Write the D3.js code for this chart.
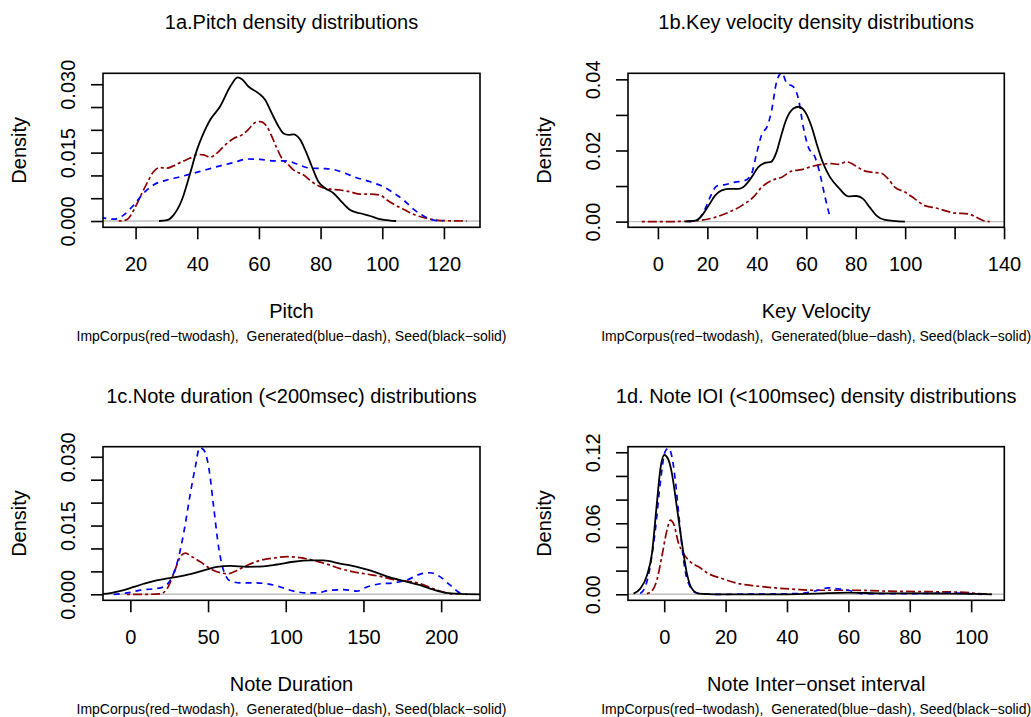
<!DOCTYPE html>
<html>
<head>
<meta charset="utf-8">
<script src="https://cdn.jsdelivr.net/npm/d3@7"></script>
<style>
  html, body { margin: 0; padding: 0; background: #fff; }
  svg { display: block; }
  text { font-family: "Liberation Sans", Arial, Helvetica, sans-serif; fill: #000; }
</style>
</head>
<body>
<svg id="chart" width="1031" height="717"></svg>
<script>
// ---------------- DATA ----------------
const seriesNames = ["ImpCorpus", "Generated", "Seed"];
const subtitleText = "ImpCorpus(red\u2212twodash),  Generated(blue\u2212dash), Seed(black\u2212solid)";

// Panel 1a: Pitch
const pitchImpCorpus = [[14.5,0],[16.1,0.0001],[17.7,0.0006],[19.4,0.0024],[21.5,0.0053],[23.7,0.0083],[25.8,0.0108],[27.8,0.0117],[30.2,0.0116],[32.3,0.0121],[35,0.013],[37.7,0.0138],[40.1,0.0146],[42,0.0145],[44.2,0.014],[46.4,0.0149],[49.1,0.0167],[51.8,0.0181],[54.5,0.0189],[56.6,0.0201],[58.8,0.0216],[60.4,0.0218],[62.6,0.0207],[64.2,0.0185],[65.8,0.016],[67.4,0.0138],[69.6,0.0123],[71.2,0.0112],[74.5,0.0101],[77.2,0.0086],[79.9,0.0075],[83.1,0.007],[86.3,0.0068],[89.6,0.0064],[92.8,0.0059],[96.1,0.0059],[99.3,0.0057],[101.5,0.0046],[104.2,0.0035],[107.4,0.0024],[110.7,0.0013],[114.4,0.0006],[118.8,0.0001],[127.4,0]];
const pitchGenerated = [[5,0.0009],[9.4,0.0007],[12.9,0.0004],[16.1,0.0013],[19.4,0.0035],[22.6,0.0061],[25.8,0.0079],[30.2,0.009],[34.5,0.0097],[38.8,0.0105],[43.1,0.0113],[47.4,0.0121],[51.8,0.0128],[56.1,0.0136],[60.4,0.0135],[64.7,0.0132],[69.1,0.0132],[72.3,0.0125],[76.6,0.0116],[80.9,0.0115],[84.2,0.0113],[87.4,0.0106],[91.7,0.0095],[96.1,0.0086],[100.4,0.0075],[103.6,0.0062],[106.9,0.0046],[110.1,0.0026],[113.4,0.0011],[116.6,0.0002],[119.8,0]];
const pitchSeed = [[27.6,0],[30.2,0.0002],[32.3,0.0013],[35,0.0046],[37.7,0.0105],[39.9,0.0156],[42,0.0192],[44.2,0.0222],[47.4,0.0251],[50.7,0.0295],[53.1,0.0315],[54.5,0.0311],[56.6,0.0295],[59.9,0.028],[62,0.0266],[64.2,0.0236],[66.4,0.0207],[68,0.0192],[69.6,0.0189],[71.2,0.019],[73.4,0.0178],[75,0.0156],[77.2,0.0119],[79.3,0.0086],[81.5,0.0072],[84.2,0.0061],[86.3,0.0046],[89.6,0.0024],[92.8,0.0017],[96.1,0.0011],[99.3,0.0004],[102.5,0.0001],[104.5,0]];

// Panel 1b: Key velocity
const velImpCorpus = [[-6.5,0],[3,0],[11,0.0001],[17.8,0.0004],[23.1,0.0012],[28.5,0.0026],[33.9,0.0045],[38.6,0.0069],[42,0.0097],[46,0.0116],[50.1,0.0125],[54.1,0.0142],[58.1,0.0146],[62.2,0.0155],[66.2,0.0161],[70.3,0.0163],[72.9,0.0161],[76.3,0.0168],[79.7,0.0158],[83,0.0144],[86.4,0.0139],[90.4,0.0136],[93.1,0.012],[95.8,0.0097],[99.9,0.0083],[103.9,0.0064],[107.9,0.0045],[112,0.0039],[116,0.0031],[120.1,0.0024],[125.4,0.0022],[128.8,0.0012],[131.5,0.0003],[134.2,0]];
const velGenerated = [[12.4,0],[15.7,0.0003],[18.4,0.0026],[21.1,0.0069],[23.8,0.01],[27.2,0.0104],[31.2,0.0111],[35.3,0.0116],[37.9,0.0135],[39.9,0.0191],[41.9,0.0243],[44.4,0.0271],[46,0.0313],[48,0.0393],[50.1,0.0419],[52.1,0.0389],[54.8,0.0379],[56.8,0.0346],[58.8,0.0266],[60.8,0.021],[63.5,0.0182],[65.5,0.0135],[67.6,0.0069],[69.6,0.0012]];
const velSeed = [[11,0],[15.1,0.0003],[17.8,0.0017],[20.5,0.0045],[23.1,0.0073],[25.8,0.0088],[29.2,0.0092],[32.6,0.0092],[35.3,0.0102],[37.9,0.0125],[40.6,0.0153],[43.3,0.0165],[45.8,0.0168],[48,0.0196],[50.1,0.0248],[52.1,0.029],[54.8,0.0318],[56.8,0.0323],[59.5,0.0309],[62.2,0.0266],[64.2,0.0219],[66.9,0.0163],[69.6,0.0125],[72.9,0.0097],[77,0.0071],[80.3,0.0072],[83,0.0064],[85.7,0.004],[88.4,0.0017],[91.8,0.0005],[99.9,0]];

// Panel 1c: Note duration
const durImpCorpus = [[-2.1,0],[10.7,0],[19.3,0.0001],[23.6,0.0012],[27.9,0.0045],[32.2,0.0082],[35.4,0.009],[39.7,0.0082],[45,0.0071],[51.4,0.0056],[57.9,0.0047],[63.2,0.0045],[68.6,0.0052],[75,0.0063],[83.6,0.0074],[92.2,0.0079],[100.7,0.0082],[109.3,0.008],[117.9,0.0074],[126.5,0.0066],[135,0.0056],[143.6,0.0049],[152.2,0.0044],[160.8,0.0039],[169.3,0.0032],[177.9,0.0029],[186.5,0.0023],[195.1,0.0012],[203.6,0.0003],[207.9,0]];
const durGenerated = [[-10.7,0],[-2.1,0.0003],[6.4,0.0009],[15,0.0012],[21.4,0.0016],[25.7,0.0031],[30,0.0067],[34.3,0.0133],[38.6,0.022],[41.8,0.0278],[44.6,0.032],[47.2,0.0315],[50.4,0.0278],[53.6,0.0191],[56.8,0.0103],[60,0.0052],[64.3,0.0029],[70.7,0.0025],[79.3,0.0025],[87.9,0.0023],[96.5,0.0016],[105,0.0007],[113.6,0.0003],[120,0.0003],[128.6,0.0009],[137.2,0.001],[145.8,0.0007],[152.2,0.0016],[160.8,0.0023],[169.3,0.0025],[177.9,0.0031],[186.5,0.0044],[192.9,0.0047],[199.4,0.0038],[205.8,0.002],[212.2,0.0003],[216.5,0]];
const durSeed = [[-20,0.0001],[-17.1,0.0001],[-10.7,0.0004],[-4.3,0.0009],[2.1,0.0016],[8.6,0.0023],[15,0.0029],[21.4,0.0033],[30,0.0038],[38.6,0.0044],[47.2,0.0052],[55.7,0.006],[64.3,0.0062],[75,0.006],[85.7,0.0061],[94.3,0.0065],[105,0.0071],[115.8,0.0074],[124.3,0.0074],[135,0.0067],[145.8,0.006],[154.3,0.0052],[165,0.0039],[175.8,0.0029],[186.5,0.002],[195.1,0.001],[203.6,0.0003],[212.2,0.0001],[225,0]];

// Panel 1d: Note IOI
const ioiImpCorpus = [[-5.6,0.0006],[-4,0.0028],[-2.4,0.0119],[-0.8,0.0316],[0.9,0.0542],[2,0.0627],[3,0.0599],[4.7,0.0429],[6.3,0.0344],[8.5,0.0274],[11.2,0.0232],[14.4,0.0175],[18.8,0.0133],[24.2,0.009],[29.6,0.0071],[36.2,0.0054],[42.7,0.0042],[49.2,0.0034],[55.7,0.0034],[62.2,0.0034],[70.9,0.0028],[81.8,0.0023],[92.6,0.002],[98,0.0017],[102.4,0.0006],[106.7,0]];
const ioiGenerated = [[-7.8,0.0006],[-6.2,0.0062],[-4.6,0.0232],[-2.9,0.0542],[-1.3,0.0937],[0.3,0.1206],[1.4,0.1234],[2.5,0.1163],[3.6,0.0966],[4.7,0.0683],[5.8,0.0401],[6.8,0.0203],[8.5,0.0062],[10.6,0.0011],[16.6,0],[43.8,0.0006],[49.2,0.0028],[53.5,0.0054],[56.8,0.0045],[60,0.0034],[64.4,0.0006],[81.8,0.0006],[92.6,0.0011],[99.1,0.0006],[103.5,0]];
const ioiSeed = [[-10,0.0006],[-7.8,0.0048],[-5.6,0.0161],[-4,0.0344],[-2.4,0.0768],[-1.3,0.105],[0,0.1177],[1.4,0.1135],[2.5,0.1022],[4.1,0.074],[5.8,0.0429],[7.4,0.0175],[9,0.0048],[11.2,0.0006],[16.6,0],[38.3,0],[49.2,0.0006],[60,0.0014],[70.9,0.0008],[92.6,0.0006],[101.3,0.0003],[106.7,0]];

// Titles / axis labels
const panelTitles = ["1a.Pitch density distributions", "1b.Key velocity density distributions",
                     "1c.Note duration (<200msec) distributions", "1d. Note IOI (<100msec) density distributions"];
const xLabels = ["Pitch", "Key Velocity", "Note Duration", "Note Inter\u2212onset interval"];
const yLabel = "Density";

// Tick values and labels
const xTicks1a = [20, 40, 60, 80, 100, 120];
const xTickLabels1a = [20, 40, 60, 80, 100, 120];
const xTicks1b = [0, 20, 40, 60, 80, 100, 120, 140];
const xTickLabels1b = [0, 20, 40, 60, 80, 100, 140];
const xTicks1c = [0, 50, 100, 150, 200];
const xTickLabels1c = [0, 50, 100, 150, 200];
const xTicks1d = [0, 20, 40, 60, 80, 100];
const xTickLabels1d = [0, 20, 40, 60, 80, 100];
const yTicks1a = [0, 0.005, 0.010, 0.015, 0.020, 0.025, 0.030];
const yTickLabels1a = [0, 0.015, 0.030];
const yTicks1b = [0, 0.01, 0.02, 0.03, 0.04];
const yTickLabels1b = [0, 0.02, 0.04];
const yTicks1c = [0, 0.005, 0.010, 0.015, 0.020, 0.025, 0.030];
const yTickLabels1c = [0, 0.015, 0.030];
const yTicks1d = [0, 0.02, 0.04, 0.06, 0.08, 0.10, 0.12];
const yTickLabels1d = [0, 0.06, 0.12];

// ---------------- LAYOUT ----------------
const panels = [
  { box: [103, 73.3, 480, 227.3], xDom: [9.43, 131.7], yDom: [-0.00138, 0.0324], yFmt: ".3f",
    xt: xTicks1a, xl: xTickLabels1a, yt: yTicks1a, yl: yTickLabels1a,
    series: [pitchImpCorpus, pitchGenerated, pitchSeed] },
  { box: [628, 73.3, 1004.3, 227.3], xDom: [-12.1, 140.1], yDom: [-0.0016, 0.0417], yFmt: ".2f",
    xt: xTicks1b, xl: xTickLabels1b, yt: yTicks1b, yl: yTickLabels1b,
    series: [velImpCorpus, velGenerated, velSeed] },
  { box: [103, 446.7, 480, 600.3], xDom: [-17.6, 225.0], yDom: [-0.00131, 0.0322], yFmt: ".3f",
    xt: xTicks1c, xl: xTickLabels1c, yt: yTicks1c, yl: yTickLabels1c,
    series: [durImpCorpus, durGenerated, durSeed] },
  { box: [628, 446.7, 1004.3, 600.3], xDom: [-11.8, 110.8], yDom: [-0.00508, 0.1247], yFmt: ".2f",
    xt: xTicks1d, xl: xTickLabels1d, yt: yTicks1d, yl: yTickLabels1d,
    series: [ioiImpCorpus, ioiGenerated, ioiSeed] }
];
const styles = [
  { color: "#8B0000", dash: "3,3,9,3", width: 1.7 },
  { color: "#0000FF", dash: "6,5", width: 1.7 },
  { color: "#000000", dash: null, width: 1.8 }
];

const svg = d3.select("#chart");
const defs = svg.append("defs");

panels.forEach((p, i) => {
  const [x0, y0, x1, y1] = p.box;
  const x = d3.scaleLinear().domain(p.xDom).range([x0, x1]);
  const y = d3.scaleLinear().domain(p.yDom).range([y1, y0]);
  const g = svg.append("g");
  const cx = (x0 + x1) / 2;

  defs.append("clipPath").attr("id", "clip" + i)
    .append("rect").attr("x", x0).attr("y", y0).attr("width", x1 - x0).attr("height", y1 - y0);

  // Title
  g.append("text").attr("x", cx).attr("y", y0 - 44).attr("text-anchor", "middle")
    .style("font-size", "20px").text(panelTitles[i]);

  // Zero line
  const plot = g.append("g").attr("clip-path", `url(#clip${i})`);
  plot.append("line").attr("x1", x0).attr("x2", x1).attr("y1", y(0)).attr("y2", y(0))
    .attr("stroke", "#BEBEBE").attr("stroke-width", 1.4);

  // Curves
  const line = d3.line().x(d => x(d[0])).y(d => y(d[1])).curve(d3.curveMonotoneX);
  p.series.forEach((s, k) => {
    const st = styles[k];
    plot.append("path").datum(s).attr("d", line).attr("fill", "none")
      .attr("stroke", st.color).attr("stroke-width", st.width)
      .attr("stroke-dasharray", st.dash).attr("stroke-linejoin", "round");
  });

  // Box
  g.append("rect").attr("x", x0).attr("y", y0).attr("width", x1 - x0).attr("height", y1 - y0)
    .attr("fill", "none").attr("stroke", "#000").attr("stroke-width", 1.6);

  // X axis
  const xa = g.append("g").attr("transform", `translate(0,${y1})`)
    .call(d3.axisBottom(x).tickValues(p.xt).tickSize(12)
      .tickFormat(v => p.xl.includes(v) ? String(v) : ""));
  xa.select(".domain").remove();
  xa.selectAll("line").attr("stroke", "#000").attr("stroke-width", 1.6);
  xa.selectAll("text").attr("y", 43.5).attr("dy", null)
    .style("font-size", "20px").style("font-family", '"Liberation Sans", Arial, sans-serif').attr("fill", "#000");

  // Y axis
  const ya = g.append("g").attr("transform", `translate(${x0},0)`)
    .call(d3.axisLeft(y).tickValues(p.yt).tickSize(12)
      .tickFormat(v => p.yl.some(l => Math.abs(l - v) < 1e-9) ? d3.format(p.yFmt)(v) : ""));
  ya.select(".domain").remove();
  ya.selectAll("line").attr("stroke", "#000").attr("stroke-width", 1.6);
  ya.selectAll("text").attr("x", 0).attr("y", -28).attr("dy", null)
    .attr("transform", "rotate(-90)").attr("text-anchor", "middle")
    .style("font-size", "20px").style("font-family", '"Liberation Sans", Arial, sans-serif').attr("fill", "#000");

  // Axis titles
  g.append("text").attr("x", cx).attr("y", y1 + 90.5).attr("text-anchor", "middle")
    .style("font-size", "20px").text(xLabels[i]);
  g.append("text").attr("transform", `translate(${x0 - 77},${(y0 + y1) / 2}) rotate(-90)`)
    .attr("text-anchor", "middle").style("font-size", "20px").text(yLabel);
  g.append("text").attr("x", cx).attr("y", y1 + 114).attr("text-anchor", "middle")
    .style("font-size", "14px").style("white-space", "pre").attr("xml:space", "preserve")
    .text(subtitleText);
});
</script>
</body>
</html>
